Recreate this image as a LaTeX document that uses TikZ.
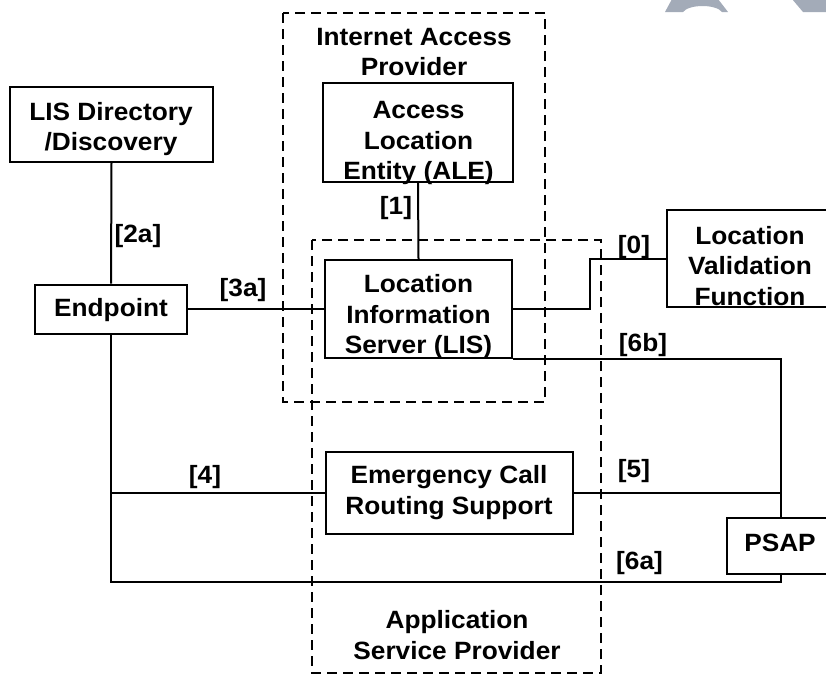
\documentclass[tikz,border=0pt]{standalone}
\usepackage{fontspec}
\setmainfont{Liberation Sans}[FakeStretch=1.05]
\definecolor{wmgray}{RGB}{163,171,184}
\newcommand\lblfont{\fontsize{25}{30.5}\selectfont\bfseries}
\tikzset{
  boxnode/.style={draw=black, line width=2pt, fill=white, inner sep=0pt, rectangle},
  lbl/.style={font=\lblfont, inner sep=0pt, align=center},
  conn/.style={line width=2pt},
  region/.style={draw=black, line width=1.8pt, dash pattern=on 10pt off 6pt},
  wm/.style={fill=wmgray, draw=none}
}
\begin{document}
\begin{tikzpicture}[x=1pt,y=-1pt]
\useasboundingbox (0,0) rectangle (826,675);
\clip (0,0) rectangle (826,675);
% faint background shapes
\fill[wm] (665,12) -- (672,-1) -- (718,-1) -- (728,12) -- (722,12) .. controls (716,4) and (689,4) .. (683,12) -- cycle;
\fill[wm] (792,-1) -- (830,-1) -- (830,12) -- (803,12) -- cycle;
% provider regions
\draw[region] (283,13) rectangle (545,402);
\draw[region] (312,240) rectangle (601,673);
% boxes
\node[boxnode, minimum width=203pt, minimum height=75pt] (lisdir) at (111.5,124.5) {};
\node[boxnode, minimum width=152pt, minimum height=49pt] (endpoint) at (111,309) {};
\node[boxnode, minimum width=190pt, minimum height=99pt] (ale) at (418,132.5) {};
\node[boxnode, minimum width=187pt, minimum height=98pt] (lis) at (418.5,309) {};
\node[boxnode, minimum width=167pt, minimum height=97pt] (lvf) at (750.5,258.5) {};
\node[boxnode, minimum width=247pt, minimum height=82pt] (ecrs) at (449.5,493) {};
\node[boxnode, minimum width=108pt, minimum height=56pt] (psap) at (781,546) {};
\coordinate (c6a) at (781,582);
% connectors
\draw[conn] (lisdir.south) -- (endpoint.north);
\draw[conn] (endpoint.east) -- (lis.west);
\draw[conn] (ale.south) -- (lis.north);
\draw[conn] (lis.east) -- ++(77,0) |- (lvf.west);
\draw[conn] (lis.south east) -| (psap.north);
\draw[conn] (endpoint.south) |- (c6a) -- (psap.south);
\draw[conn] (endpoint.south |- ecrs.west) -- (ecrs.west);
\draw[conn] (ecrs.east) -- (ecrs.east -| psap.north);
% redraw PSAP box on top of its connectors
\node[boxnode, minimum width=108pt, minimum height=56pt] at (781,546) {};
% texts
\node[lbl] (tiap) at (414,52) {Internet Access\\Provider};
\node[lbl] (tlisdir) at (111,129) {LIS Directory\\/Discovery};
\node[lbl] (tendpoint) at (111,310) {Endpoint};
\node[lbl] (tale) at (418.5,143) {Access\\Location\\Entity (ALE)};
\node[lbl] (tlis) at (418.5,317) {Location\\Information\\Server (LIS)};
\node[lbl] (tlvf) at (750,266) {Location\\Validation\\Function};
\node[lbl] (tecrs) at (449,492.5) {Emergency Call\\Routing Support};
\node[lbl] (tpsap) at (780,543) {PSAP};
\node[lbl] (tasp) at (457,635) {Application\\Service Provider};
% connector labels
\node[lbl] (l2a) at (138,236) {[2a]};
\node[lbl] (l3a) at (243,290) {[3a]};
\node[lbl] (l1) at (396,208.5) {[1]};
\node[lbl] (l0) at (634,247) {[0]};
\node[lbl] (l6b) at (643,345) {[6b]};
\node[lbl] (l4) at (205,477) {[4]};
\node[lbl] (l5) at (634,471) {[5]};
\node[lbl] (l6a) at (639.5,563) {[6a]};
\end{tikzpicture}
\end{document}
